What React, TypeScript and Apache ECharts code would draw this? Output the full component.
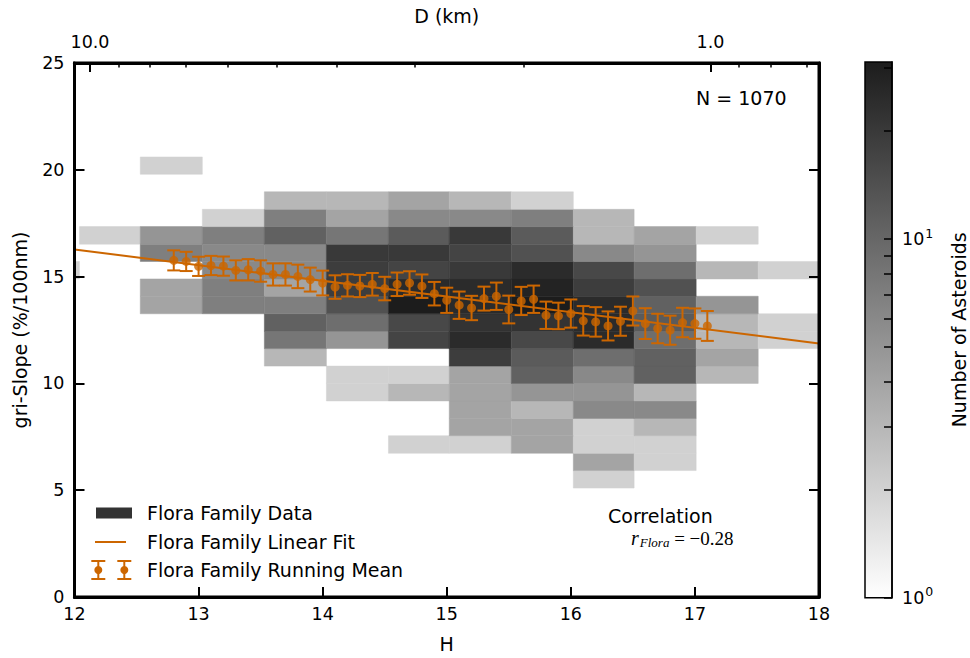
import React, { useEffect, useRef } from "react";
import * as echarts from "echarts";

// ---- data ----
const H_EDGES = [11.54, 12.04, 12.53, 13.03, 13.53, 14.03, 14.53, 15.02, 15.52, 16.02, 16.51, 17.01, 17.51, 18.0];
const SLOPE_EDGES = [5.10, 5.92, 6.73, 7.55, 8.36, 9.18, 10.0, 10.81, 11.63, 12.44, 13.26, 14.08, 14.89, 15.71, 16.52, 17.34, 18.15, 18.97, 19.79, 20.60];
// rows: slope bins from bottom (5.10) upward; columns: H bins (11.54 ... 17.51)
const COUNTS = [
  [0, 0, 0, 0, 0, 0, 0, 0, 0, 2, 0, 0, 0],
  [0, 0, 0, 0, 0, 0, 0, 0, 0, 4, 2, 0, 0],
  [0, 0, 0, 0, 0, 0, 2, 2, 4, 2, 2, 0, 0],
  [0, 0, 0, 0, 0, 0, 0, 4, 4, 2, 3, 0, 0],
  [0, 0, 0, 0, 0, 0, 0, 4, 3, 6, 6, 0, 0],
  [0, 0, 0, 0, 0, 2, 3, 4, 5, 5, 3, 0, 0],
  [0, 0, 0, 0, 0, 2, 2, 4, 11, 6, 11, 3, 0],
  [0, 0, 0, 0, 3, 0, 0, 19, 12, 9, 11, 4, 0],
  [0, 0, 0, 0, 8, 5, 17, 25, 16, 25, 9, 3, 2],
  [0, 0, 0, 0, 11, 9, 16, 22, 22, 25, 12, 3, 2],
  [0, 0, 4, 7, 7, 14, 31, 25, 31, 25, 11, 5, 0],
  [0, 0, 4, 7, 4, 19, 25, 25, 28, 19, 14, 0, 0],
  [2, 0, 0, 6, 6, 19, 17, 20, 25, 16, 9, 3, 2],
  [0, 0, 7, 6, 6, 20, 20, 17, 14, 6, 5, 0, 0],
  [0, 2, 5, 7, 11, 8, 12, 20, 12, 3, 4, 2, 0],
  [0, 0, 0, 2, 7, 4, 6, 6, 7, 3, 0, 0, 0],
  [0, 0, 0, 0, 3, 3, 4, 3, 2, 0, 0, 0, 0],
  [0, 0, 0, 0, 0, 0, 0, 0, 0, 0, 0, 0, 0],
  [0, 0, 2, 0, 0, 0, 0, 0, 0, 0, 0, 0, 0],
];
const MEAN_H = [12.8, 12.9, 13.0, 13.1, 13.2, 13.3, 13.4, 13.5, 13.6, 13.7, 13.8, 13.9, 14.0, 14.1, 14.2, 14.3, 14.4, 14.5, 14.6, 14.7, 14.8, 14.9, 15.0, 15.1, 15.2, 15.3, 15.4, 15.5, 15.6, 15.7, 15.8, 15.9, 16.0, 16.1, 16.2, 16.3, 16.4, 16.5, 16.6, 16.7, 16.8, 16.9, 17.0, 17.1];
const MEAN_SLOPE = [15.76, 15.71, 15.48, 15.52, 15.49, 15.29, 15.32, 15.26, 15.10, 15.10, 15.01, 14.86, 14.70, 14.51, 14.59, 14.56, 14.64, 14.44, 14.64, 14.70, 14.55, 14.20, 13.89, 13.66, 13.53, 13.97, 14.08, 13.46, 13.86, 13.94, 13.19, 13.16, 13.27, 12.93, 12.88, 12.69, 12.91, 13.39, 12.80, 12.57, 12.49, 12.85, 12.80, 12.69];
const MEAN_ERR = [0.47, 0.45, 0.45, 0.45, 0.45, 0.47, 0.50, 0.50, 0.52, 0.52, 0.55, 0.56, 0.58, 0.55, 0.52, 0.52, 0.53, 0.55, 0.55, 0.55, 0.55, 0.55, 0.59, 0.64, 0.57, 0.56, 0.64, 0.65, 0.66, 0.64, 0.64, 0.62, 0.66, 0.69, 0.69, 0.68, 0.68, 0.68, 0.72, 0.69, 0.68, 0.69, 0.71, 0.70];
const FIT_H = [12, 18];
const FIT_SLOPE = [16.27, 11.87];
const D_MAJOR = [10, 1];
const D_MINOR = [9, 8, 7, 6, 5, 4, 3, 2, 0.9, 0.8, 0.7];
const H_AT_D10 = 12.125;
const CBAR_MAX = 31.2;
const CBAR_TICKS = [1, 2, 3, 4, 5, 6, 7, 8, 9, 10, 20, 30];
const CBAR_LABELS = [1, 10];
const N_TOTAL = 1070;
const R_FLORA = "−0.28";

// ---- styling ----
const ORANGE = "#cc6600";
const FONT = "DejaVu Sans";
const DARKEST = 28;
const LOG_MAX = Math.log10(CBAR_MAX);

const hOfD = (d: number) => H_AT_D10 + 5 * Math.log10(10 / d);
const grayFor = (n: number) => {
  const t = Math.log10(n) / LOG_MAX;
  const g = Math.round(255 - (255 - DARKEST) * t);
  return `rgb(${g},${g},${g})`;
};

export default function App() {
  const ref = useRef<HTMLDivElement>(null);
  useEffect(() => {
    if (!ref.current) return;
    const chart = echarts.init(ref.current, null, { renderer: "svg" });

    const cells: number[][] = [];
    COUNTS.forEach((row, r) =>
      row.forEach((n, c) => {
        if (n > 0) cells.push([H_EDGES[c], SLOPE_EDGES[r], H_EDGES[c + 1], SLOPE_EDGES[r + 1], n]);
      })
    );
    const means = MEAN_H.map((h, i) => [h, MEAN_SLOPE[i], MEAN_ERR[i]]);

    const GRID = { left: 74.5, top: 63, width: 744.5, height: 534.7 };
    const tickStyle = { color: "#000", width: 2 };
    const labelStyle = { color: "#000", fontSize: 17.5, fontFamily: FONT };
    const nameStyle = { color: "#000", fontSize: 19, fontFamily: FONT };
    const frameLine = { show: true, onZero: false, lineStyle: { color: "#000", width: 3 } };
    const cbarLine = { show: true, onZero: false, lineStyle: { color: "#000", width: 1.5 } };

    const errIcon = (x: number, y: number) => [
      { type: "line", shape: { x1: x, y1: y - 9, x2: x, y2: y + 9 }, style: { stroke: ORANGE, lineWidth: 2 } },
      { type: "line", shape: { x1: x - 7, y1: y - 9, x2: x + 7, y2: y - 9 }, style: { stroke: ORANGE, lineWidth: 2 } },
      { type: "line", shape: { x1: x - 7, y1: y + 9, x2: x + 7, y2: y + 9 }, style: { stroke: ORANGE, lineWidth: 2 } },
      { type: "circle", shape: { cx: x, cy: y, r: 4 }, style: { fill: ORANGE } },
    ];

    chart.setOption({
      animation: false,
      backgroundColor: "#fff",
      grid: [
        { ...GRID, show: true, borderColor: "#000", borderWidth: 3, backgroundColor: "transparent", z: 10 },
        { left: 865, top: 62, width: 27, height: 535.7 },
        { ...GRID },
      ],
      xAxis: [
        {
          gridIndex: 0, type: "value", min: 12, max: 18, interval: 1, position: "bottom",
          axisLine: frameLine,
          axisTick: { show: true, inside: true, length: 10, lineStyle: tickStyle },
          axisLabel: { ...labelStyle, margin: 8 },
          splitLine: { show: false },
          name: "H", nameLocation: "middle", nameGap: 37, nameTextStyle: nameStyle,
          z: 12,
        },
        {
          gridIndex: 0, type: "value", min: 12, max: 18, position: "top",
          axisLine: frameLine,
          axisTick: { show: true, inside: true, length: 9, lineStyle: tickStyle, customValues: D_MAJOR.map(hOfD) },
          axisLabel: {
            ...labelStyle, margin: 12,
            customValues: D_MAJOR.map(hOfD),
            formatter: (v: number) => {
              let best = D_MAJOR[0];
              D_MAJOR.forEach((d) => { if (Math.abs(hOfD(d) - v) < Math.abs(hOfD(best) - v)) best = d; });
              return best.toFixed(1);
            },
          },
          splitLine: { show: false },
          name: "D (km)", nameLocation: "middle", nameGap: 38, nameTextStyle: nameStyle,
          z: 12,
        },
        { gridIndex: 1, type: "value", min: 0, max: 1, show: false, axisLine: { show: false, onZero: false } },
        {
          gridIndex: 2, type: "value", min: 12, max: 18, position: "top",
          axisLine: frameLine,
          axisTick: { show: true, inside: true, length: 4.5, lineStyle: { color: "#000", width: 1.5 }, customValues: D_MINOR.map(hOfD) },
          axisLabel: { show: false },
          splitLine: { show: false },
          z: 12,
        },
      ],
      yAxis: [
        {
          gridIndex: 0, type: "value", min: 0, max: 25, interval: 5, position: "left",
          axisLine: frameLine,
          axisTick: { show: true, inside: true, length: 10, lineStyle: tickStyle },
          axisLabel: { ...labelStyle, margin: 10 },
          splitLine: { show: false },
          name: "gri-Slope (%/100nm)", nameLocation: "middle", nameGap: 45, nameRotate: 90, nameTextStyle: nameStyle,
          z: 12,
        },
        {
          gridIndex: 0, type: "value", min: 0, max: 25, interval: 5, position: "right",
          axisLine: frameLine,
          axisTick: { show: true, inside: true, length: 10, lineStyle: tickStyle },
          axisLabel: { show: false },
          splitLine: { show: false },
          z: 12,
        },
        {
          gridIndex: 1, type: "value", min: 0, max: LOG_MAX, position: "right",
          axisLine: cbarLine,
          axisTick: { show: true, inside: true, length: 8, lineStyle: { color: "#000", width: 1.5 }, customValues: CBAR_TICKS.map((v) => Math.log10(v)) },
          axisLabel: {
            color: "#000", margin: 10,
            customValues: CBAR_LABELS.map((v) => Math.log10(v)),
            formatter: (v: number) => `{b|10}{s|${Math.round(v)}}`,
            rich: {
              b: { fontSize: 17.5, fontFamily: FONT, color: "#000" },
              s: { fontSize: 12.5, fontFamily: FONT, color: "#000", padding: [0, 0, 12, 1] },
            },
          },
          splitLine: { show: false },
          name: "Number of Asteroids", nameLocation: "middle", nameGap: 57, nameRotate: 90, nameTextStyle: nameStyle,
          z: 12,
        },
        { gridIndex: 2, type: "value", min: 0, max: 25, show: false, axisLine: { show: false, onZero: false } },
      ],
      series: [
        {
          type: "custom", name: "Flora Family Data", xAxisIndex: 0, yAxisIndex: 0, z: 1,
          encode: { x: [0, 2], y: [1, 3] },
          data: cells,
          renderItem: (params: any, api: any) => {
            const a = api.coord([api.value(0), api.value(3)]);
            const b = api.coord([api.value(2), api.value(1)]);
            const rect = echarts.graphic.clipRectByRect(
              { x: a[0], y: a[1], width: b[0] - a[0], height: b[1] - a[1] },
              params.coordSys
            );
            if (!rect) return null;
            const col = grayFor(api.value(4));
            return { type: "rect", shape: rect, style: { fill: col, stroke: col, lineWidth: 0.5 } };
          },
        },
        {
          type: "line", name: "Flora Family Linear Fit", xAxisIndex: 0, yAxisIndex: 0, z: 3,
          data: FIT_H.map((h, i) => [h, FIT_SLOPE[i]]),
          showSymbol: false, symbol: "none",
          lineStyle: { color: ORANGE, width: 2 },
        },
        {
          type: "custom", name: "Flora Family Running Mean", xAxisIndex: 0, yAxisIndex: 0, z: 4,
          encode: { x: 0, y: 1 },
          data: means,
          renderItem: (params: any, api: any) => {
            const x = api.value(0), y = api.value(1), e = api.value(2);
            const t = api.coord([x, y + e]);
            const b = api.coord([x, y - e]);
            const cap = 6.5;
            const st = { stroke: ORANGE, lineWidth: 2 };
            return {
              type: "group",
              children: [
                { type: "line", shape: { x1: t[0], y1: t[1], x2: b[0], y2: b[1] }, style: st },
                { type: "line", shape: { x1: t[0] - cap, y1: t[1], x2: t[0] + cap, y2: t[1] }, style: st },
                { type: "line", shape: { x1: b[0] - cap, y1: b[1], x2: b[0] + cap, y2: b[1] }, style: st },
              ],
            };
          },
        },
        {
          type: "scatter", name: "Flora Family Running Mean", xAxisIndex: 0, yAxisIndex: 0, z: 5,
          data: means.map((m) => [m[0], m[1]]),
          symbol: "circle", symbolSize: 9,
          itemStyle: { color: ORANGE },
        },
        {
          type: "custom", name: "colorbar", xAxisIndex: 2, yAxisIndex: 2, z: 1,
          data: [[0, 0]],
          renderItem: (params: any, api: any) => {
            const a = api.coord([0, LOG_MAX]);
            const b = api.coord([1, 0]);
            return {
              type: "rect",
              shape: { x: a[0], y: a[1], width: b[0] - a[0], height: b[1] - a[1] },
              style: {
                fill: new echarts.graphic.LinearGradient(0, 0, 0, 1, [
                  { offset: 0, color: `rgb(${DARKEST},${DARKEST},${DARKEST})` },
                  { offset: 1, color: "#ffffff" },
                ]),
                stroke: "#000",
                lineWidth: 1.5,
              },
            };
          },
        },
      ],
      graphic: [
        { type: "text", left: 696, top: 88, style: { text: `N = ${N_TOTAL}`, fontSize: 19, fontFamily: FONT, fill: "#000" } },
        { type: "text", left: 608, top: 506, style: { text: "Correlation", fontSize: 19, fontFamily: FONT, fill: "#000" } },
        {
          type: "text", left: 631, top: 528,
          style: {
            text: `{r|r}{sub|Flora}{eq| = ${R_FLORA}}`,
            rich: {
              r: { fontFamily: "Liberation Serif", fontStyle: "italic", fontSize: 20, fill: "#000" },
              sub: { fontFamily: "Liberation Serif", fontStyle: "italic", fontSize: 13, fill: "#000", padding: [9, 0, 0, 1] },
              eq: { fontFamily: "Liberation Serif", fontSize: 19, fill: "#000" },
            },
          },
        },
        { type: "rect", shape: { x: 96, y: 507.5, width: 36, height: 11 }, style: { fill: "#333333" } },
        { type: "text", x: 147, y: 513, style: { text: "Flora Family Data", fontSize: 19, fontFamily: FONT, fill: "#000", verticalAlign: "middle" } },
        { type: "line", shape: { x1: 95, y1: 542, x2: 126, y2: 542 }, style: { stroke: ORANGE, lineWidth: 2 } },
        { type: "text", x: 147, y: 542, style: { text: "Flora Family Linear Fit", fontSize: 19, fontFamily: FONT, fill: "#000", verticalAlign: "middle" } },
        ...errIcon(98.3, 570),
        ...errIcon(124.3, 570),
        { type: "text", x: 147, y: 570, style: { text: "Flora Family Running Mean", fontSize: 19, fontFamily: FONT, fill: "#000", verticalAlign: "middle" } },
      ],
    });
    return () => chart.dispose();
  }, []);
  return <div ref={ref} style={{ position: "fixed", left: 0, top: 0, width: 970, height: 658, background: "#fff" }} />;
}
